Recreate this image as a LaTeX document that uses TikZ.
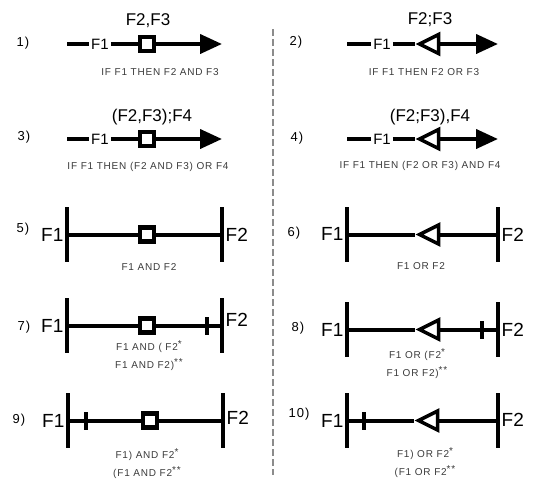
\documentclass[tikz,border=0pt]{standalone}
\usepackage{fontspec}
\setmainfont{Liberation Sans}
\newfontfamily\notefont[LetterSpace=8]{Liberation Sans}
\usepackage{tikz}
\usetikzlibrary{positioning, arrows.meta, calc, shapes.geometric}
\definecolor{divgray}{HTML}{8C8C8C}
\definecolor{notegray}{HTML}{3A3A3A}

\newcommand{\starmark}[1]{\raisebox{3pt}{#1}}

\tikzset{
  wire/.style={line width=4pt},
  flow/.style={wire, -{Triangle[length=22pt, width=19pt]}},
  andgate/.style={draw, line width=4.5pt, fill=white, minimum size=14pt, inner sep=0pt},
  orgate/.style={draw, line width=3.5pt, fill=white, isosceles triangle, isosceles triangle stretches,
    shape border rotate=180, minimum width=19pt, minimum height=19pt, inner sep=0pt, anchor=apex},
  endbar/.style={fill=black, minimum width=4.5pt, minimum height=55pt, inner sep=0pt},
  tickbar/.style={fill=black, minimum width=4pt, minimum height=18pt, inner sep=0pt},
  srcname/.style={font=\fontsize{15}{15}\selectfont, inner sep=2pt},
  outname/.style={font=\fontsize{17}{17}\selectfont, inner sep=0pt},
  endname/.style={font=\fontsize{19}{19}\selectfont, inner sep=1pt},
  casenum/.style={font=\notefont\fontsize{13}{13}\selectfont, inner sep=0pt},
  rulenote/.style={font=\notefont\fontsize{10}{18}\selectfont, text=notegray, align=center, inner sep=0pt},
  divider/.style={draw=divgray, line width=1.8pt, dash pattern=on 7pt off 3pt},
}

\begin{document}
\begin{tikzpicture}[x=1pt, y=-1pt]
  \useasboundingbox (0,0) rectangle (537,480);

  % dashed separator between the two columns
  \coordinate (divtop) at (273,29);
  \coordinate (divbot) at (273,475);
  \draw[divider] (divtop) -- (divbot);

  % 1) and
  \node[casenum] (n1) at (23,43) {1)};
  \coordinate (s1) at (67,44);
  \node[srcname] (f1a) at (100,44) {F1};
  \node[andgate] (g1) at (147,44) {};
  \coordinate (e1) at (222,44);
  \draw[wire] (s1) -- (f1a) -- (g1);
  \draw[flow] (g1) -- (e1);
  \node[outname] (o1) at (148,21) {F2,F3};
  \node[rulenote] (r1) at (160,72) {IF F1 THEN F2 AND F3};

  % 2) or
  \node[casenum] (n2) at (296,42) {2)};
  \coordinate (s2) at (347,44);
  \node[srcname] (f1b) at (382,44) {F1};
  \node[orgate] (g2) at (415,44) {};
  \coordinate (e2) at (498,44);
  \draw[wire] (s2) -- (f1b) -- (g2);
  \draw[flow] (g2) -- (e2);
  \node[outname] (o2) at (430,20) {F2;F3};
  \node[rulenote] (r2) at (424,72) {IF F1 THEN F2 OR F3};

  % 3) and, then or
  \node[casenum] (n3) at (24,137) {3)};
  \coordinate (s3) at (67,139);
  \node[srcname] (f1c) at (100,139) {F1};
  \node[andgate] (g3) at (147,139) {};
  \coordinate (e3) at (222,139);
  \draw[wire] (s3) -- (f1c) -- (g3);
  \draw[flow] (g3) -- (e3);
  \node[outname] (o3) at (152,117) {(F2,F3);F4};
  \node[rulenote] (r3) at (148,167) {IF F1 THEN (F2 AND F3) OR F4};

  % 4) or, then and
  \node[casenum] (n4) at (297,138) {4)};
  \coordinate (s4) at (347,139);
  \node[srcname] (f1d) at (382,139) {F1};
  \node[orgate] (g4) at (415,139) {};
  \coordinate (e4) at (498,139);
  \draw[wire] (s4) -- (f1d) -- (g4);
  \draw[flow] (g4) -- (e4);
  \node[outname] (o4) at (430,117) {(F2;F3),F4};
  \node[rulenote] (r4) at (420,166) {IF F1 THEN (F2 OR F3) AND F4};

  % 5) F1 and F2
  \node[casenum] (n5) at (23,229) {5)};
  \node[endbar] (l5) at (67,234.5) {};
  \node[endbar] (rt5) at (222,234.5) {};
  \node[andgate] (g5) at (147,234.5) {};
  \draw[wire] (l5) -- (g5) -- (rt5);
  \node[endname, left=0pt of l5] (a5) {F1};
  \node[endname, right=0pt of rt5] (b5) {F2};
  \node[rulenote] (r5) at (149,267) {F1 AND F2};

  % 6) F1 or F2
  \node[casenum] (n6) at (294,233) {6)};
  \node[endbar] (l6) at (347,234.5) {};
  \node[endbar] (rt6) at (498,234.5) {};
  \node[orgate] (g6) at (415,234.5) {};
  \draw[wire] (l6) -- (g6) -- (rt6);
  \node[endname, left=0pt of l6, yshift=1pt] (a6) {F1};
  \node[endname, right=0pt of rt6] (b6) {F2};
  \node[rulenote] (r6) at (421,266) {F1 OR F2};

  % 7) and, tick at F2
  \node[casenum] (n7) at (24,327) {7)};
  \node[endbar] (l7) at (67,325.5) {};
  \node[endbar] (rt7) at (222,325.5) {};
  \node[andgate] (g7) at (147,325.5) {};
  \node[tickbar] (t7) at (207,325.5) {};
  \draw[wire] (l7) -- (g7) -- (t7) -- (rt7);
  \node[endname, left=0pt of l7] (a7) {F1};
  \node[endname, right=0pt of rt7, yshift=6pt] (b7) {F2};
  \node[rulenote] (r7) at (149,356) {F1 AND ( F2\starmark{*}\\F1 AND F2)\starmark{**}};

  % 8) or, tick at F2
  \node[casenum] (n8) at (298,328) {8)};
  \node[endbar] (l8) at (347,329.5) {};
  \node[endbar] (rt8) at (498,329.5) {};
  \node[orgate] (g8) at (415,329.5) {};
  \node[tickbar] (t8) at (482,329.5) {};
  \draw[wire] (l8) -- (g8) -- (t8) -- (rt8);
  \node[endname, left=0pt of l8] (a8) {F1};
  \node[endname, right=0pt of rt8] (b8) {F2};
  \node[rulenote] (r8) at (417,364) {F1 OR (F2\starmark{*}\\F1 OR F2)\starmark{**}};

  % 9) and, tick at F1
  \node[casenum] (n9) at (19,420) {9)};
  \node[endbar] (l9) at (68,420.5) {};
  \node[endbar] (rt9) at (223,420.5) {};
  \node[andgate] (g9) at (150,420.5) {};
  \node[tickbar] (t9) at (86,420.5) {};
  \draw[wire] (l9) -- (t9) -- (g9) -- (rt9);
  \node[endname, left=0pt of l9] (a9) {F1};
  \node[endname, right=0pt of rt9, yshift=3pt] (b9) {F2};
  \node[rulenote] (r9) at (147,464) {F1) AND F2\starmark{*}\\(F1 AND F2\starmark{**}};

  % 10) or, tick at F1
  \node[casenum] (n10) at (299,414) {10)};
  \node[endbar] (l10) at (347,420.5) {};
  \node[endbar] (rt10) at (498,420.5) {};
  \node[orgate] (g10) at (414,420.5) {};
  \node[tickbar] (t10) at (364,420.5) {};
  \draw[wire] (l10) -- (t10) -- (g10) -- (rt10);
  \node[endname, left=0pt of l10] (a10) {F1};
  \node[endname, right=0pt of rt10, yshift=1pt] (b10) {F2};
  \node[rulenote] (r10) at (425,463) {F1) OR F2\starmark{*}\\(F1 OR F2\starmark{**}};
\end{tikzpicture}
\end{document}
